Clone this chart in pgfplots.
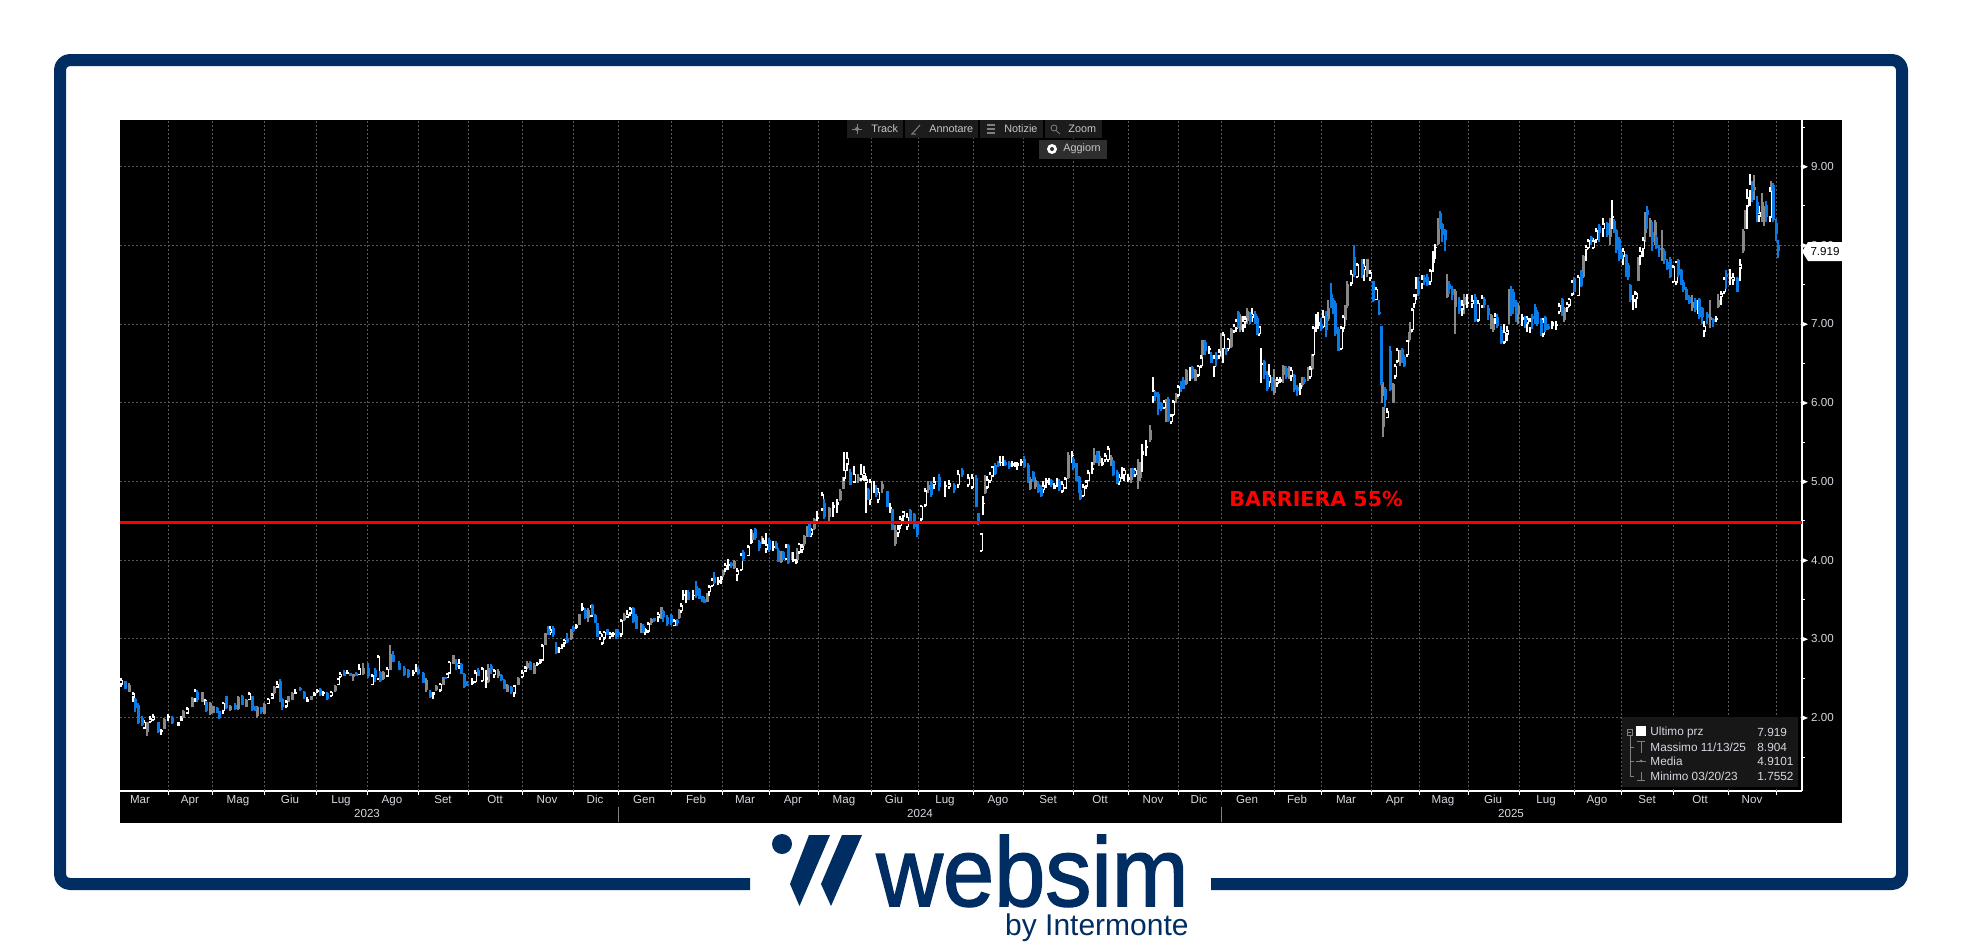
\documentclass[border=0pt]{standalone}
\usepackage{pgfplots}
\pgfplotsset{compat=1.18}
\usepackage{pgfplotstable}
\usepackage{fontspec}
\setmainfont{Liberation Sans}
\newfontfamily\logofont[FakeBold=1.6]{Liberation Sans}
\definecolor{navy}{RGB}{0,45,98}
\definecolor{cblue}{RGB}{10,123,230}
\definecolor{cgray}{RGB}{135,135,135}
\definecolor{gridc}{RGB}{88,88,88}
\definecolor{txtc}{RGB}{215,215,225}
\pgfplotstableread{
x l b t h k
1 2.39 2.42 2.48 2.50 0
5 2.36 2.36 2.46 2.47 1
9 2.32 2.33 2.41 2.44 2
13 2.20 2.25 2.31 2.32 0
15 2.07 2.12 2.24 2.25 1
18 1.92 1.93 2.16 2.18 1
22 1.90 1.91 2.00 2.02 1
24 1.86 1.86 1.95 1.97 0
27 1.77 1.82 1.94 1.95 2
30 1.93 1.94 1.99 2.02 0
33 1.96 1.97 2.02 2.05 0
38 1.80 1.82 1.94 1.95 1
41 1.78 1.82 1.84 1.85 0
44 1.85 1.86 1.98 1.99 2
48 1.96 2.00 2.02 2.05 0
52 1.92 1.93 2.00 2.02 1
58 1.90 1.90 1.94 1.95 0
61 1.96 1.96 2.00 2.02 0
63 2.00 2.00 2.09 2.10 2
67 2.05 2.05 2.12 2.13 0
72 2.13 2.13 2.25 2.26 2
75 2.20 2.23 2.34 2.36 0
77 2.20 2.22 2.33 2.35 1
82 2.20 2.20 2.32 2.33 2
85 2.16 2.20 2.22 2.24 0
86 2.07 2.09 2.20 2.21 1
90 2.03 2.05 2.19 2.20 2
93 2.06 2.06 2.15 2.15 2
97 2.06 2.06 2.12 2.13 1
99 1.98 2.00 2.08 2.09 1
103 2.04 2.08 2.19 2.20 0
106 2.11 2.12 2.27 2.28 1
110 2.08 2.10 2.15 2.16 2
115 2.10 2.11 2.16 2.18 1
118 2.10 2.11 2.26 2.27 2
122 2.16 2.16 2.27 2.29 1
126 2.13 2.14 2.22 2.24 2
129 2.22 2.22 2.31 2.33 0
132 2.08 2.10 2.27 2.28 1
135 2.09 2.10 2.14 2.15 1
137 2.00 2.02 2.14 2.15 2
141 2.05 2.07 2.13 2.14 1
144 2.04 2.05 2.17 2.18 2
148 2.17 2.17 2.24 2.25 0
152 2.24 2.24 2.30 2.31 0
154 2.30 2.31 2.39 2.40 2
157 2.38 2.38 2.43 2.46 0
160 2.20 2.22 2.47 2.49 1
162 2.10 2.13 2.24 2.25 1
166 2.12 2.14 2.21 2.22 0
168 2.20 2.20 2.27 2.28 2
172 2.23 2.23 2.31 2.32 2
175 2.30 2.30 2.33 2.37 0
180 2.34 2.35 2.38 2.39 1
184 2.24 2.26 2.33 2.34 1
187 2.20 2.20 2.24 2.26 0
191 2.22 2.22 2.27 2.28 2
194 2.27 2.27 2.31 2.33 0
197 2.31 2.32 2.35 2.37 0
200 2.28 2.29 2.37 2.38 1
203 2.28 2.30 2.32 2.34 0
207 2.23 2.24 2.31 2.32 1
211 2.26 2.27 2.33 2.34 0
215 2.33 2.34 2.40 2.41 2
218 2.41 2.41 2.50 2.50 0
220 2.50 2.51 2.56 2.58 0
224 2.53 2.53 2.58 2.60 1
227 2.55 2.55 2.58 2.61 0
230 2.53 2.53 2.57 2.57 1
233 2.47 2.51 2.55 2.55 2
236 2.53 2.53 2.57 2.58 1
239 2.54 2.54 2.63 2.68 0
243 2.54 2.55 2.63 2.69 2
248 2.50 2.53 2.63 2.69 1
252 2.41 2.41 2.54 2.55 0
255 2.45 2.52 2.61 2.63 1
258 2.48 2.48 2.78 2.80 0
260 2.45 2.46 2.58 2.59 1
263 2.48 2.49 2.58 2.59 2
267 2.52 2.52 2.62 2.64 0
270 2.60 2.60 2.81 2.92 2
273 2.71 2.71 2.79 2.84 1
279 2.60 2.60 2.70 2.72 1
284 2.53 2.54 2.63 2.65 1
288 2.50 2.51 2.60 2.62 1
293 2.53 2.55 2.58 2.60 0
296 2.58 2.60 2.64 2.68 0
298 2.54 2.55 2.62 2.64 1
303 2.44 2.44 2.57 2.58 1
306 2.33 2.35 2.48 2.50 2
310 2.25 2.26 2.33 2.35 1
313 2.24 2.29 2.32 2.33 0
316 2.34 2.35 2.40 2.42 2
320 2.33 2.34 2.43 2.44 0
323 2.41 2.42 2.50 2.52 2
325 2.49 2.49 2.51 2.52 1
327 2.50 2.50 2.56 2.57 0
329 2.56 2.56 2.71 2.72 0
333 2.68 2.68 2.79 2.80 2
336 2.60 2.64 2.69 2.75 1
339 2.62 2.65 2.70 2.75 0
341 2.56 2.56 2.68 2.69 1
344 2.38 2.39 2.56 2.57 1
347 2.40 2.42 2.43 2.46 1
352 2.42 2.43 2.47 2.50 0
355 2.44 2.45 2.58 2.60 0
358 2.53 2.53 2.61 2.63 1
362 2.45 2.46 2.63 2.64 0
366 2.38 2.48 2.52 2.60 0
368 2.44 2.45 2.63 2.68 2
371 2.55 2.60 2.66 2.68 1
374 2.50 2.54 2.60 2.62 0
378 2.50 2.53 2.59 2.62 2
381 2.47 2.48 2.54 2.55 1
384 2.36 2.36 2.48 2.49 1
387 2.32 2.33 2.41 2.43 2
391 2.30 2.33 2.39 2.40 1
394 2.26 2.30 2.41 2.42 0
398 2.41 2.42 2.50 2.52 2
402 2.50 2.51 2.58 2.60 0
405 2.58 2.58 2.64 2.65 0
407 2.62 2.63 2.69 2.72 2
410 2.60 2.61 2.71 2.72 1
414 2.55 2.56 2.67 2.70 2
417 2.66 2.67 2.70 2.71 0
420 2.68 2.69 2.72 2.74 0
422 2.72 2.72 2.92 2.93 0
425 2.92 2.92 3.07 3.08 2
428 3.05 3.05 3.13 3.17 1
430 3.05 3.07 3.12 3.17 0
433 3.03 3.05 3.14 3.16 1
436 2.81 2.82 2.90 2.96 1
439 2.82 2.87 2.89 2.90 0
442 2.87 2.90 2.93 2.94 0
444 2.90 2.94 2.99 3.00 0
447 2.95 2.96 3.00 3.07 1
451 2.99 3.00 3.12 3.13 2
453 3.09 3.10 3.15 3.16 1
456 3.13 3.14 3.18 3.19 0
459 3.18 3.18 3.32 3.32 2
462 3.36 3.37 3.40 3.45 0
465 3.25 3.27 3.37 3.39 1
468 3.22 3.26 3.37 3.39 2
471 3.28 3.28 3.41 3.43 0
472 3.30 3.30 3.43 3.44 1
475 3.20 3.20 3.30 3.32 1
477 3.03 3.03 3.20 3.20 1
480 2.99 3.00 3.08 3.10 0
482 2.92 2.94 3.05 3.06 0
484 2.99 3.00 3.09 3.10 0
487 3.05 3.05 3.12 3.12 1
490 3.00 3.02 3.07 3.09 0
493 3.02 3.05 3.08 3.09 0
496 3.00 3.07 3.12 3.13 1
498 3.02 3.05 3.09 3.12 1
501 3.03 3.05 3.24 3.25 0
504 3.23 3.24 3.30 3.33 2
507 3.27 3.27 3.32 3.37 0
510 3.29 3.32 3.39 3.40 0
513 3.20 3.22 3.39 3.40 1
516 3.12 3.12 3.29 3.31 1
521 3.08 3.10 3.18 3.20 2
523 3.07 3.09 3.17 3.19 1
525 3.05 3.08 3.12 3.14 0
528 3.07 3.09 3.20 3.21 0
531 3.18 3.20 3.25 3.27 2
534 3.22 3.23 3.26 3.27 1
538 3.22 3.27 3.32 3.34 0
541 3.25 3.28 3.40 3.41 2
543 3.22 3.28 3.35 3.37 1
547 3.17 3.19 3.28 3.30 1
551 3.18 3.20 3.30 3.32 1
554 3.16 3.16 3.24 3.25 0
557 3.16 3.20 3.24 3.25 1
559 3.25 3.26 3.35 3.38 2
561 3.33 3.35 3.43 3.45 0
563 3.49 3.54 3.57 3.62 0
566 3.46 3.52 3.56 3.62 0
568 3.49 3.49 3.59 3.62 1
573 3.50 3.54 3.56 3.62 0
576 3.52 3.54 3.67 3.74 1
579 3.51 3.51 3.63 3.65 1
582 3.47 3.47 3.54 3.55 1
584 3.45 3.45 3.51 3.53 1
587 3.47 3.47 3.57 3.58 2
589 3.55 3.59 3.67 3.68 0
592 3.66 3.67 3.75 3.77 0
594 3.70 3.71 3.78 3.85 1
598 3.68 3.71 3.75 3.78 0
601 3.70 3.75 3.78 3.80 0
603 3.78 3.81 3.86 3.88 2
605 3.85 3.88 3.94 3.96 0
608 3.88 3.93 3.95 4.02 0
611 3.90 3.93 3.96 3.98 1
614 3.89 3.90 3.99 4.00 2
617 3.73 3.81 3.87 3.90 0
621 3.86 3.87 4.07 4.09 0
623 3.99 4.01 4.10 4.13 1
628 4.05 4.05 4.18 4.19 0
631 4.20 4.22 4.26 4.39 0
632 4.24 4.26 4.34 4.38 2
635 4.26 4.28 4.40 4.41 1
639 4.12 4.15 4.23 4.25 1
642 4.20 4.21 4.26 4.31 2
643 4.20 4.21 4.25 4.28 0
646 4.09 4.13 4.20 4.34 0
649 4.10 4.13 4.25 4.28 1
653 4.11 4.16 4.18 4.24 0
656 4.14 4.16 4.22 4.24 1
658 3.98 3.98 4.13 4.16 1
661 3.97 3.98 4.09 4.11 2
663 4.00 4.01 4.10 4.12 1
666 4.00 4.01 4.18 4.20 0
668 3.95 3.96 4.19 4.20 1
672 4.00 4.00 4.08 4.10 2
673 3.98 3.99 4.02 4.10 0
676 3.95 3.96 4.00 4.02 0
677 3.99 4.00 4.13 4.15 2
679 4.08 4.09 4.21 4.22 0
682 4.09 4.13 4.18 4.20 0
684 4.18 4.20 4.31 4.32 2
687 4.30 4.31 4.42 4.43 2
689 4.30 4.31 4.46 4.47 1
691 4.30 4.32 4.39 4.41 0
694 4.38 4.39 4.52 4.53 2
697 4.49 4.52 4.55 4.62 0
702 4.63 4.64 4.84 4.86 0
704 4.52 4.55 4.72 4.78 1
709 4.50 4.55 4.66 4.68 2
713 4.55 4.66 4.70 4.74 0
717 4.60 4.70 4.74 4.78 0
720 4.75 4.76 4.88 4.90 2
723 4.90 4.91 5.04 5.05 2
724 5.00 5.03 5.15 5.37 0
727 5.13 5.21 5.30 5.37 0
730 4.95 4.95 5.12 5.16 1
734 4.98 4.98 5.10 5.20 0
738 4.98 5.00 5.06 5.10 2
741 5.00 5.02 5.10 5.22 0
744 5.00 5.06 5.11 5.20 0
746 4.60 4.98 5.03 5.07 0
748 4.76 4.76 4.91 4.92 1
750 4.70 4.76 5.00 5.03 0
754 4.85 4.87 4.91 5.00 0
756 4.80 4.83 4.91 4.95 1
758 4.72 4.76 4.87 4.92 0
762 4.85 4.91 4.97 5.00 2
767 4.67 4.67 4.88 4.88 1
770 4.60 4.65 4.67 4.72 0
772 4.38 4.38 4.65 4.65 1
775 4.18 4.20 4.38 4.45 2
778 4.30 4.34 4.40 4.45 0
780 4.40 4.43 4.53 4.56 0
783 4.50 4.55 4.62 4.63 0
787 4.38 4.42 4.55 4.60 0
790 4.46 4.47 4.64 4.65 1
794 4.40 4.42 4.59 4.60 1
797 4.30 4.32 4.46 4.48 1
801 4.50 4.51 4.69 4.70 0
805 4.67 4.69 4.89 4.92 0
808 4.85 4.89 4.95 5.00 2
811 4.80 4.83 4.98 5.00 1
814 4.90 4.95 5.00 5.05 0
819 4.88 4.93 5.06 5.10 1
825 4.80 4.93 4.95 5.00 0
829 4.90 4.93 4.98 5.02 0
834 4.85 4.89 4.95 4.98 1
838 4.92 4.95 5.10 5.15 0
842 5.05 5.08 5.15 5.17 1
848 4.93 4.95 5.05 5.10 0
852 4.90 4.92 5.05 5.10 0
856 4.67 4.67 5.04 5.08 1
858 4.45 4.46 4.60 4.60 1
861 4.10 4.11 4.34 4.35 0
863 4.57 4.71 4.73 4.82 0
865 4.84 4.85 5.03 5.08 2
867 4.90 4.92 5.03 5.07 0
870 4.98 5.00 5.10 5.12 0
872 5.05 5.06 5.19 5.20 0
875 5.08 5.10 5.21 5.23 1
878 5.18 5.20 5.24 5.26 1
880 5.20 5.23 5.25 5.32 0
883 5.20 5.22 5.26 5.32 0
885 5.20 5.21 5.25 5.27 1
889 5.16 5.18 5.23 5.26 1
892 5.18 5.20 5.24 5.26 0
895 5.18 5.20 5.24 5.25 0
897 5.15 5.19 5.23 5.25 0
901 5.20 5.23 5.26 5.28 0
904 5.17 5.18 5.29 5.32 1
908 4.98 5.00 5.21 5.23 1
910 4.89 4.90 5.03 5.05 2
913 5.00 5.00 5.12 5.13 1
915 4.90 4.93 5.02 5.05 2
918 4.85 4.87 4.97 5.00 1
921 4.80 4.82 4.92 4.96 1
923 4.85 4.89 4.95 5.00 0
926 4.92 4.98 5.02 5.04 0
929 4.95 4.99 5.03 5.04 0
931 4.93 4.96 5.02 5.03 1
934 4.90 4.91 4.95 4.98 0
937 4.93 4.96 5.00 5.04 0
939 4.88 4.89 5.00 5.03 1
942 4.85 4.87 4.97 5.00 0
945 4.90 4.91 5.04 5.06 0
948 5.03 5.04 5.34 5.37 2
952 5.23 5.32 5.34 5.39 0
953 5.15 5.17 5.29 5.31 1
956 5.00 5.00 5.23 5.24 1
959 4.85 4.87 5.06 5.07 1
960 4.76 4.78 4.89 4.90 1
963 4.80 4.81 4.94 4.97 0
966 4.90 4.93 5.00 5.02 0
968 5.00 5.00 5.12 5.14 0
972 5.10 5.15 5.17 5.25 0
974 5.21 5.23 5.34 5.43 2
977 5.23 5.25 5.37 5.39 1
979 5.20 5.23 5.32 5.38 2
982 5.19 5.21 5.25 5.30 0
985 5.25 5.27 5.33 5.36 0
988 5.25 5.27 5.42 5.45 0
991 5.20 5.25 5.31 5.33 2
993 5.07 5.08 5.26 5.27 1
997 4.97 4.98 5.12 5.14 1
999 4.95 4.99 5.06 5.10 0
1002 5.03 5.10 5.14 5.18 0
1004 5.00 5.08 5.15 5.17 0
1008 4.99 5.02 5.06 5.10 0
1011 4.98 5.02 5.14 5.17 2
1013 5.05 5.10 5.15 5.17 1
1015 5.05 5.08 5.15 5.17 0
1018 4.91 5.00 5.04 5.29 2
1020 5.00 5.04 5.23 5.25 2
1022 5.12 5.34 5.38 5.47 0
1026 5.32 5.42 5.45 5.53 0
1030 5.50 5.52 5.65 5.72 2
1033 5.99 6.07 6.16 6.33 0
1035 6.02 6.07 6.13 6.15 1
1038 5.84 5.92 6.11 6.14 1
1041 5.90 5.92 5.99 6.01 1
1044 5.92 5.93 6.01 6.03 0
1046 5.75 5.76 6.03 6.05 2
1048 5.75 5.77 6.05 6.07 1
1051 5.73 5.75 5.84 5.86 0
1053 5.83 5.84 6.02 6.04 0
1056 6.00 6.05 6.09 6.12 2
1058 6.07 6.09 6.21 6.23 0
1061 6.14 6.20 6.24 6.27 1
1063 6.17 6.18 6.29 6.33 1
1066 6.23 6.24 6.41 6.43 2
1070 6.28 6.34 6.37 6.45 0
1072 6.30 6.31 6.45 6.46 1
1075 6.27 6.28 6.41 6.43 2
1078 6.33 6.34 6.47 6.48 0
1081 6.44 6.46 6.58 6.60 0
1082 6.58 6.60 6.79 6.80 2
1085 6.60 6.65 6.77 6.79 1
1089 6.62 6.67 6.69 6.72 0
1091 6.50 6.51 6.60 6.64 1
1094 6.33 6.45 6.57 6.60 0
1096 6.47 6.54 6.60 6.64 1
1099 6.55 6.59 6.65 6.68 0
1101 6.58 6.68 6.81 6.88 2
1103 6.50 6.68 6.87 6.90 0
1106 6.60 6.64 6.68 6.70 1
1108 6.66 6.68 6.81 6.82 0
1111 6.70 6.71 6.94 6.95 2
1114 6.88 6.90 6.98 7.00 0
1116 6.90 6.94 7.04 7.06 0
1118 6.95 6.96 7.15 7.17 1
1120 6.90 6.92 7.10 7.12 2
1123 6.90 6.98 7.05 7.10 0
1125 6.95 7.02 7.07 7.10 0
1127 7.00 7.04 7.17 7.20 2
1130 7.00 7.03 7.13 7.15 1
1132 7.03 7.08 7.13 7.20 0
1135 7.00 7.03 7.13 7.17 1
1137 6.86 6.87 7.08 7.10 1
1139 6.85 6.87 6.97 6.97 0
1141 6.25 6.48 6.50 6.70 0
1144 6.30 6.35 6.53 6.54 1
1147 6.15 6.18 6.35 6.40 1
1149 6.20 6.25 6.35 6.49 0
1152 6.15 6.20 6.26 6.33 1
1154 6.10 6.12 6.30 6.43 2
1157 6.20 6.24 6.30 6.32 0
1160 6.25 6.26 6.30 6.33 0
1163 6.25 6.35 6.46 6.48 2
1166 6.30 6.33 6.44 6.46 1
1169 6.30 6.37 6.45 6.46 2
1171 6.27 6.33 6.42 6.45 0
1174 6.14 6.16 6.35 6.36 1
1177 6.08 6.15 6.20 6.23 1
1180 6.10 6.18 6.22 6.25 0
1182 6.20 6.22 6.32 6.33 2
1184 6.24 6.26 6.30 6.32 1
1188 6.28 6.30 6.43 6.45 2
1190 6.30 6.32 6.44 6.46 0
1192 6.42 6.43 6.60 6.62 2
1193 6.59 6.60 6.96 6.98 0
1196 6.90 6.98 7.02 7.13 0
1198 6.93 6.98 7.02 7.15 0
1201 6.91 6.94 7.00 7.07 1
1203 6.95 6.96 7.10 7.18 0
1206 6.83 6.92 7.10 7.17 1
1208 7.04 7.06 7.20 7.30 2
1211 7.20 7.30 7.38 7.52 1
1213 7.12 7.19 7.30 7.33 1
1215 6.85 6.87 7.27 7.29 1
1218 6.65 6.66 6.94 6.96 1
1221 6.67 6.68 6.96 6.98 0
1223 6.90 6.94 7.09 7.11 0
1225 6.97 7.05 7.20 7.24 2
1227 7.20 7.23 7.51 7.55 2
1231 7.48 7.51 7.64 7.68 0
1234 7.60 7.62 7.85 8.00 1
1237 7.58 7.59 7.76 7.78 0
1242 7.58 7.62 7.76 7.83 1
1244 7.55 7.68 7.74 7.82 0
1247 7.60 7.63 7.82 7.83 2
1250 7.55 7.57 7.66 7.68 0
1253 7.28 7.29 7.54 7.55 1
1256 7.30 7.30 7.45 7.47 0
1259 7.11 7.12 7.15 7.30 1
1261 6.23 6.24 6.98 6.98 1
1262 6.00 6.08 6.26 6.28 2
1263 5.56 5.69 5.94 5.95 2
1265 5.95 6.04 6.18 6.20 1
1267 5.80 5.80 5.89 5.93 0
1270 6.15 6.16 6.65 6.72 1
1273 6.00 6.00 6.24 6.25 2
1275 6.30 6.33 6.47 6.49 0
1277 6.50 6.52 6.67 6.70 0
1280 6.46 6.52 6.64 6.67 2
1282 6.50 6.54 6.68 6.70 1
1284 6.45 6.47 6.58 6.60 1
1287 6.58 6.60 6.79 6.80 0
1289 6.77 6.79 6.87 6.90 2
1290 6.85 6.88 7.00 7.02 2
1292 6.90 6.92 7.19 7.20 0
1294 7.20 7.25 7.36 7.38 0
1296 7.30 7.36 7.47 7.60 0
1298 7.35 7.38 7.55 7.60 1
1302 7.44 7.50 7.58 7.62 0
1304 7.50 7.53 7.60 7.62 1
1307 7.48 7.49 7.59 7.64 1
1310 7.50 7.53 7.68 7.70 0
1313 7.66 7.78 7.82 7.92 0
1315 7.83 7.96 7.98 8.02 0
1318 8.00 8.02 8.34 8.35 2
1320 8.20 8.28 8.41 8.43 1
1322 8.04 8.13 8.27 8.28 1
1325 7.92 8.06 8.19 8.20 1
1327 7.33 7.34 7.49 7.64 2
1329 7.38 7.45 7.51 7.55 1
1332 7.30 7.37 7.45 7.48 1
1335 6.87 7.21 7.42 7.45 2
1339 7.13 7.17 7.31 7.34 1
1342 7.10 7.18 7.25 7.30 0
1344 7.13 7.24 7.34 7.38 2
1347 7.20 7.25 7.28 7.38 0
1352 7.20 7.25 7.30 7.37 0
1355 7.03 7.04 7.34 7.38 1
1358 7.03 7.04 7.27 7.30 0
1362 7.20 7.22 7.34 7.37 0
1364 7.20 7.24 7.32 7.34 1
1368 7.05 7.11 7.20 7.24 1
1371 6.93 7.00 7.11 7.13 2
1373 6.90 6.92 7.05 7.07 2
1375 7.00 7.05 7.11 7.14 0
1377 6.95 6.97 7.09 7.12 1
1381 6.75 6.76 6.92 6.97 1
1384 6.74 6.76 6.90 7.00 0
1387 6.78 6.86 6.92 6.97 0
1389 7.00 7.20 7.41 7.45 2
1391 7.10 7.20 7.40 7.48 1
1393 7.12 7.22 7.41 7.44 1
1396 7.02 7.12 7.28 7.30 1
1398 7.00 7.12 7.23 7.27 2
1402 6.97 7.05 7.09 7.12 0
1405 6.95 7.00 7.08 7.10 1
1407 6.90 7.00 7.07 7.10 0
1410 6.88 6.94 7.05 7.07 0
1412 6.93 7.06 7.10 7.12 1
1415 7.00 7.02 7.22 7.25 1
1417 6.98 7.00 7.15 7.18 1
1421 6.85 6.88 7.05 7.07 1
1423 6.84 6.86 7.03 7.07 0
1425 6.90 6.92 7.09 7.10 1
1428 6.92 6.93 6.98 7.00 1
1432 6.94 6.98 7.02 7.04 0
1436 6.92 6.97 7.00 7.04 0
1439 7.12 7.15 7.24 7.27 0
1442 7.10 7.17 7.32 7.33 1
1444 7.03 7.05 7.20 7.22 2
1447 7.15 7.20 7.26 7.28 0
1449 7.22 7.23 7.32 7.33 0
1452 7.35 7.37 7.54 7.56 0
1454 7.40 7.41 7.58 7.60 1
1458 7.35 7.35 7.60 7.62 0
1461 7.47 7.48 7.67 7.69 1
1463 7.58 7.60 7.86 7.88 2
1466 7.80 7.94 7.99 8.00 0
1468 7.95 7.96 8.06 8.08 0
1471 8.00 8.06 8.10 8.12 1
1473 7.95 7.96 8.06 8.09 0
1476 8.03 8.06 8.19 8.22 0
1479 8.04 8.16 8.25 8.27 1
1483 8.10 8.20 8.28 8.35 0
1487 8.10 8.13 8.28 8.30 1
1490 8.00 8.11 8.32 8.34 2
1492 8.20 8.34 8.37 8.58 0
1494 8.15 8.19 8.31 8.33 1
1496 7.90 7.94 8.19 8.21 1
1499 7.80 7.90 8.08 8.10 1
1501 7.82 7.83 7.90 7.93 1
1503 7.75 7.85 7.93 7.97 0
1506 7.60 7.62 7.87 7.89 1
1508 7.56 7.60 7.75 7.78 1
1510 7.28 7.30 7.49 7.51 1
1513 7.18 7.30 7.34 7.37 0
1515 7.28 7.30 7.39 7.42 0
1516 7.20 7.32 7.39 7.41 0
1518 7.54 7.55 7.83 7.85 2
1520 7.75 7.85 7.93 7.98 0
1523 7.85 7.95 8.07 8.10 0
1525 8.04 8.15 8.37 8.42 2
1527 8.20 8.38 8.45 8.50 1
1530 8.10 8.13 8.32 8.34 2
1532 7.93 8.04 8.17 8.30 1
1535 8.00 8.10 8.30 8.32 2
1536 7.95 7.96 8.11 8.13 1
1539 7.85 7.94 7.97 8.00 1
1542 7.80 7.85 7.97 8.19 2
1544 7.76 7.81 7.92 7.95 1
1547 7.68 7.70 7.79 7.82 1
1550 7.58 7.60 7.83 7.85 1
1553 7.52 7.53 7.73 7.75 0
1556 7.50 7.52 7.79 7.80 0
1558 7.60 7.62 7.81 7.83 1
1561 7.50 7.51 7.68 7.70 1
1563 7.40 7.43 7.53 7.56 1
1566 7.30 7.30 7.45 7.47 1
1569 7.25 7.26 7.34 7.37 1
1572 7.16 7.20 7.28 7.37 2
1575 7.15 7.18 7.30 7.33 1
1578 7.12 7.22 7.26 7.30 0
1579 7.06 7.09 7.32 7.33 1
1582 7.00 7.09 7.20 7.21 1
1584 6.83 6.90 6.98 7.04 0
1587 7.00 7.07 7.12 7.15 1
1590 6.95 7.05 7.09 7.30 2
1593 6.96 7.03 7.06 7.08 1
1596 7.02 7.05 7.07 7.10 0
1598 7.20 7.22 7.31 7.38 2
1601 7.24 7.34 7.39 7.42 0
1604 7.38 7.40 7.58 7.60 0
1606 7.45 7.59 7.63 7.68 1
1610 7.50 7.57 7.59 7.70 0
1613 7.50 7.55 7.60 7.65 0
1617 7.40 7.41 7.58 7.60 1
1620 7.55 7.70 7.76 7.82 0
1623 7.90 7.92 8.18 8.20 2
1625 8.20 8.28 8.42 8.45 2
1627 8.20 8.49 8.61 8.72 0
1630 8.50 8.68 8.78 8.90 0
1632 8.55 8.68 8.75 8.82 1
1634 8.58 8.70 8.74 8.89 2
1637 8.30 8.41 8.55 8.62 1
1639 8.30 8.36 8.42 8.50 0
1642 8.30 8.44 8.55 8.66 2
1644 8.25 8.32 8.42 8.50 2
1646 8.30 8.36 8.51 8.56 1
1650 8.30 8.35 8.69 8.74 0
1651 8.55 8.68 8.72 8.82 2
1653 8.30 8.32 8.76 8.79 1
1656 8.05 8.14 8.28 8.33 1
1658 7.84 7.92 8.00 8.07 1
}\candles
\newcommand\candleset[2]{%
\addplot[draw=none,mark=none,forget plot,unbounded coords=discard,error bars/.cd,y dir=plus,y explicit,error mark=none,error bar style={draw=#2,solid,line width=0.55pt}] table[x expr={\thisrow{k}==#1 ? \thisrow{x} : nan},y=l,y error plus expr=\thisrow{h}-\thisrow{l}]{\candles};
\addplot[draw=none,mark=none,forget plot,unbounded coords=discard,error bars/.cd,y dir=plus,y explicit,error mark=none,error bar style={draw=#2,solid,line width=1.5pt}] table[x expr={\thisrow{k}==#1 ? \thisrow{x} : nan},y=b,y error plus expr=\thisrow{t}-\thisrow{b}]{\candles};
}
\begin{document}
\begin{tikzpicture}
\begin{scope}[x=0.5pt,y=-0.5pt]
\fill[white] (0,0) rectangle (1962,944);
\fill[black] (120,120) rectangle (1842,823);
\draw[navy,line width=6pt,line join=round,rounded corners=5pt] (750,884)--(60,884)--(60,60)--(1902,60)--(1902,884)--(1211,884);
% logo
\fill[navy] (782,844) circle (10);
\fill[navy] (830,835)--(809,835)--(790,884)--(799.5,906)--cycle;
\fill[navy] (862,835)--(842,835)--(821,884)--(831,906)--cycle;
\node[anchor=base east,inner sep=0,text=navy,font={\logofont\fontsize{49}{49}\selectfont},xscale=0.94] at (1189,906) {websim};
\node[anchor=base east,inner sep=0,text=navy,font=\fontsize{15}{15}\selectfont] at (1189,935) {by Intermonte};
\end{scope}
\begin{axis}[
  at={(60pt,-395.5pt)},anchor=south west,
  scale only axis,width=841pt,height=335.5pt,
  xmin=0,xmax=1682,ymin=1.068,ymax=9.59,
  axis x line*=bottom,axis y line*=right,
  axis line style={white,line width=0.6pt,-},
  tick align=outside,
  major tick length=2pt,minor tick length=1.5pt,
  y tick style={white,line width=0.5pt},
  x tick style={draw=none},
  xtick={20,70,118,170,221,272,323,375,427,475,524,576,625,673,724,774,825,878,928,980,1033,1079,1127,1177,1226,1275,1323,1373,1426,1477,1527,1580,1632},
  xticklabels={Mar,Apr,Mag,Giu,Lug,Ago,Set,Ott,Nov,Dic,Gen,Feb,Mar,Apr,Mag,Giu,Lug,Ago,Set,Ott,Nov,Dic,Gen,Feb,Mar,Apr,Mag,Giu,Lug,Ago,Set,Ott,Nov},
  xticklabel style={text=txtc,font=\fontsize{5.8}{6}\selectfont,inner sep=0pt,anchor=base,yshift=-4.3pt},
  xmajorgrids=false,ymajorgrids,
  grid style={gridc,line width=0.4pt,dash pattern=on 1pt off 1pt},
  extra x ticks={48,92,144,196,247,298,348,402,453,498,551,602,649,698,751,798,853,903,953,1008,1058,1101,1154,1201,1251,1299,1348,1399,1454,1501,1553,1608,1656},
  extra x tick labels={},
  extra x tick style={xmajorgrids=true,x tick style={draw=white,line width=0.5pt}},
  ytick={2,3,4,5,6,7,8,9},
  minor ytick={1.5,2.5,3.5,4.5,5.5,6.5,7.5,8.5,9.5},
  yticklabel={\tikz[baseline=-0.6ex]\fill[white] (0,1.2pt)--(2.8pt,0)--(0,-1.2pt)--cycle;\hspace{1.6pt}\pgfmathprintnumber[fixed,fixed zerofill,precision=2,assume math mode=true]{\tick}},
  yticklabel style={text=txtc,font=\fontsize{5.8}{6}\selectfont,inner sep=0pt,anchor=west,xshift=-2pt},
  clip=true,axis on top=false,
]
\candleset{2}{cgray}
\candleset{0}{white}
\addplot[draw=none,mark=none,forget plot,unbounded coords=discard,error bars/.cd,y dir=plus,y explicit,error mark=none,error bar style={draw=black,solid,line width=0.55pt}] table[x expr={\thisrow{k}==0 ? \thisrow{x} : nan},y expr=\thisrow{b}+0.02,y error plus expr={max(\thisrow{t}-\thisrow{b}-0.04,0)}]{\candles};
\candleset{1}{cblue}
\addplot[red,line width=1.4pt,forget plot] coordinates {(0,4.48) (1682,4.48)};
\node[anchor=west,inner sep=0,text=red,font={\fontspec{DejaVu Sans}\bfseries\fontsize{10.3}{10}\selectfont}] at (axis cs:1109,4.78) {BARRIERA 55\%};
\end{axis}
\begin{scope}[x=0.5pt,y=-0.5pt]
\foreach \x in {618,1221} \draw[gray,line width=0.5pt] (\x,807)--(\x,822);
\foreach \x/\l in {367/2023,920/2024,1511/2025} \node[text=txtc,font=\fontsize{5.8}{6}\selectfont,inner sep=0] at (\x,813.5) {\l};
% price tag
\fill[white] (1802,251.5)--(1808,242)--(1842,242)--(1842,261)--(1808,261)--cycle;
\node[text=black,font=\fontsize{5.8}{6}\selectfont,inner sep=0] at (1825,251.5) {7.919};
% toolbar
\fill[black!89!white] (847,120) rectangle (903,138);
\fill[black!89!white] (905,120) rectangle (978,138);
\fill[black!89!white] (980,120) rectangle (1043,138);
\fill[black!89!white] (1045,120) rectangle (1102,138);
\fill[black!82!white] (1039,140) rectangle (1107,159);
\begin{scope}[every node/.style={anchor=west,inner sep=0,text=black!22!white,font=\fontsize{5.4}{6}\selectfont}]
\node at (871,129) {Track};
\node at (929,129) {Annotare};
\node at (1004,129) {Notizie};
\node at (1068,129) {Zoom};
\node at (1063,149) {Aggiorn};
\end{scope}
\draw[gray,line width=0.4pt] (852,129)--(862,129) (857,124)--(857,134);
\fill[gray] (857,129) circle (2);
\draw[gray,line width=0.5pt] (912,134)--(920,125) (911,134)--(916,134);
\draw[gray,line width=0.9pt] (987,125)--(995,125) (987,129)--(995,129) (987,133)--(995,133);
\draw[gray,line width=0.4pt] (1054,128) circle (3) (1056,130.5)--(1060,134);
\fill[white] (1052,149) circle (5);
\fill[black!80!white] (1052,149) circle (2);
% legend
\fill[black!91!white] (1622,717) rectangle (1798,787);
\begin{scope}[every node/.style={anchor=west,inner sep=0,text=txtc,font=\fontsize{5.9}{6}\selectfont}]
\node at (1650,732) {Ultimo prz};
\node at (1650,747) {Massimo 11/13/25};
\node at (1650,761) {Media};
\node at (1650,776) {Minimo 03/20/23};
\node at (1757,732) {7.919};
\node at (1757,747) {8.904};
\node at (1757,761) {4.9101};
\node at (1757,776) {1.7552};
\end{scope}
\fill[white] (1636,726) rectangle (1646,736);
\draw[gray,line width=0.4pt] (1627,729) rectangle (1632,735) (1628,732)--(1631,732);
\draw[gray,line width=0.4pt] (1630,735)--(1630,776)--(1634,776) (1630,747)--(1634,747) (1630,761)--(1634,761);
\draw[gray,line width=0.4pt] (1637,741)--(1645,741) (1641,741)--(1641,753) (1636,761)--(1646,761) (1641,772)--(1641,780) (1637,780)--(1645,780);
\fill[gray] (1641,761) circle (1.5);
\end{scope}
\end{tikzpicture}
\end{document}
